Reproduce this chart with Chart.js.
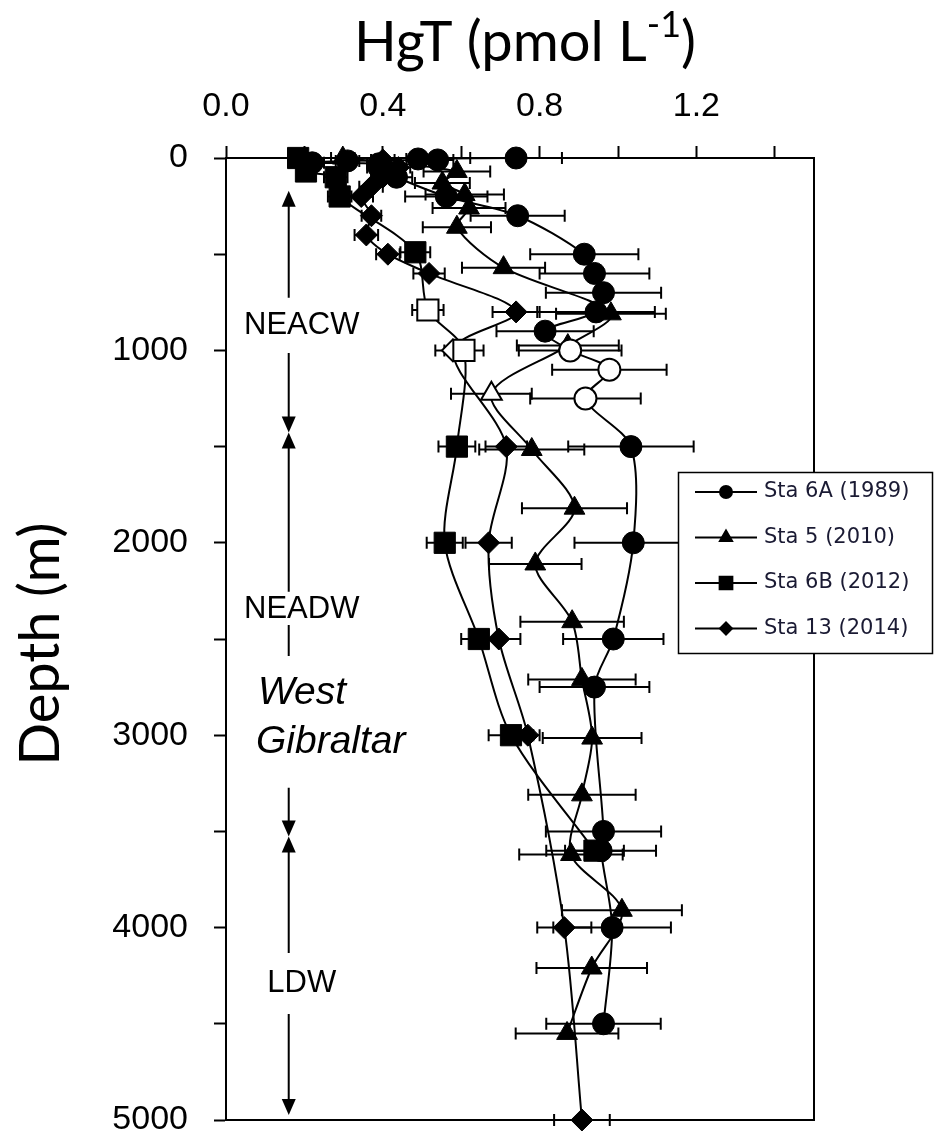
<!DOCTYPE html>
<html>
<head>
<meta charset="utf-8">
<script src="https://cdn.jsdelivr.net/npm/chart.js@4.4.0/dist/chart.umd.min.js"></script>
<style>
html, body { margin: 0; padding: 0; background: #fff; }
</style>
</head>
<body>
<canvas id="chart" width="934" height="1138"></canvas>
<script>
// depth (m), HgT (pmol/L) and +/- error for each station; open = hollow markers
var depth6A = [0, 5, 10, 15, 25, 30, 50, 100, 200, 300, 500, 600, 700, 800, 900, 1000, 1100, 1250, 1500, 2000, 2500, 2750, 3500, 3600, 4000, 4500];
var hgt6A = [0.74, 0.49, 0.54, 0.31, 0.22, 0.39, 0.39, 0.435, 0.562, 0.744, 0.914, 0.94, 0.963, 0.944, 0.814, 0.878, 0.978, 0.917, 1.033, 1.039, 0.988, 0.94, 0.963, 0.957, 0.985, 0.963];
var err6A = [0.117, 0.03, 0.04, 0.03, 0.03, 0.03, 0.03, 0.04, 0.105, 0.12, 0.138, 0.14, 0.147, 0.15, 0.124, 0.131, 0.146, 0.141, 0.16, 0.15, 0.128, 0.14, 0.147, 0.14, 0.15, 0.146];
var open6A = [1000, 1100, 1250];

var depth5 = [0, 70, 130, 190, 260, 360, 570, 810, 975, 1225, 1515, 1820, 2110, 2410, 2710, 3015, 3310, 3620, 3910, 4210, 4550];
var hgt5 = [0.298, 0.589, 0.552, 0.609, 0.62, 0.589, 0.708, 0.982, 0.872, 0.677, 0.78, 0.889, 0.789, 0.883, 0.908, 0.934, 0.908, 0.88, 1.01, 0.933, 0.87];
var err5 = [0.03, 0.085, 0.07, 0.1, 0.093, 0.087, 0.106, 0.14, 0.13, 0.103, 0.134, 0.134, 0.118, 0.132, 0.137, 0.126, 0.137, 0.132, 0.153, 0.141, 0.131];
var open5 = [1225];

var depth6B = [0, 70, 100, 200, 490, 790, 1000, 1500, 2000, 2500, 3000, 3600];
var hgt6B = [0.184, 0.204, 0.28, 0.29, 0.483, 0.515, 0.607, 0.589, 0.558, 0.645, 0.727, 0.94];
var err6B = [0.02, 0.02, 0.03, 0.03, 0.038, 0.04, 0.05, 0.047, 0.046, 0.045, 0.057, 0.075];
var open6B = [790, 1000];

var depth13 = [10, 50, 100, 150, 200, 300, 400, 500, 600, 800, 1000, 1500, 2000, 2500, 3000, 4000, 5000];
var hgt13 = [0.40, 0.44, 0.40, 0.37, 0.345, 0.371, 0.358, 0.413, 0.518, 0.74, 0.579, 0.715, 0.67, 0.696, 0.77, 0.863, 0.908];
var err13 = [0.03, 0.03, 0.03, 0.03, 0.03, 0.025, 0.03, 0.03, 0.04, 0.06, 0.045, 0.053, 0.059, 0.055, 0.03, 0.069, 0.071];
var open13 = [1000];

var seriesNames = ['Sta 6A (1989)', 'Sta 5 (2010)', 'Sta 6B (2012)', 'Sta 13 (2014)'];
var xTickLabels = ['0.0', '0.4', '0.8', '1.2'];
var yTickLabels = ['0', '1000', '2000', '3000', '4000', '5000'];

// water masses: [label, top depth, bottom depth]
var waterMasses = [['NEACW', 170, 1427], ['NEADW', 1427, 3527], ['LDW', 3527, 4974]];

function makeSet(name, depths, vals, errs, open, style, r) {
    return {
        label: name,
        data: depths.map((d, i) => ({ x: vals[i], y: d })),
        errors: errs,
        showLine: true,
        tension: 0.3,
        borderColor: '#000',
        borderWidth: 2,
        pointStyle: style,
        pointRadius: r,
        pointBorderColor: '#000',
        pointBackgroundColor: depths.map(d => open.indexOf(d) >= 0 ? '#fff' : '#000'),
        pointBorderWidth: depths.map(d => open.indexOf(d) >= 0 ? 2 : 1),
        clip: false
    };
}

var errorBars = {
    id: 'errorBars',
    beforeDatasetsDraw(chart) {
        var ctx = chart.ctx, xs = chart.scales.x, ys = chart.scales.y;
        var a = chart.chartArea;
        ctx.save();
        ctx.strokeStyle = '#000';
        ctx.lineWidth = 2;
        // right and bottom sides of the box
        ctx.strokeRect(a.left, a.top, a.right - a.left, a.bottom - a.top);
        chart.data.datasets.forEach(ds => {
            ds.data.forEach((p, i) => {
                var e = ds.errors[i];
                var y = ys.getPixelForValue(p.y);
                var x0 = xs.getPixelForValue(p.x - e), x1 = xs.getPixelForValue(p.x + e);
                ctx.beginPath();
                ctx.moveTo(x0, y); ctx.lineTo(x1, y);
                ctx.moveTo(x0, y - 6); ctx.lineTo(x0, y + 6);
                ctx.moveTo(x1, y - 6); ctx.lineTo(x1, y + 6);
                ctx.stroke();
            });
        });
        ctx.restore();
    }
};

function arrowHead(ctx, x, y, dir) {
    ctx.beginPath();
    ctx.moveTo(x, y);
    ctx.lineTo(x - 7, y - dir * 16);
    ctx.lineTo(x + 7, y - dir * 16);
    ctx.closePath();
    ctx.fill();
}

var extras = {
    id: 'extras',
    afterDraw(chart) {
        var ctx = chart.ctx, xs = chart.scales.x, ys = chart.scales.y;
        ctx.save();
        ctx.fillStyle = '#000';
        ctx.strokeStyle = '#000';
        ctx.lineWidth = 2;

        // water mass arrows
        var ax = xs.getPixelForValue(0.16);
        var gaps = [[727, 1013], [2254, 3273], [4132, 4449]];
        waterMasses.forEach((w, i) => {
            var t = ys.getPixelForValue(w[1]), b = ys.getPixelForValue(w[2]);
            var g0 = ys.getPixelForValue(gaps[i][0]), g1 = ys.getPixelForValue(gaps[i][1]);
            ctx.beginPath();
            ctx.moveTo(ax, t + 10); ctx.lineTo(ax, g0);
            ctx.moveTo(ax, g1); ctx.lineTo(ax, b - 10);
            ctx.stroke();
            arrowHead(ctx, ax, t, -1);
            arrowHead(ctx, ax, b, 1);
            ctx.font = '31px "Liberation Sans"';
            ctx.textAlign = 'center';
            ctx.textBaseline = 'middle';
            ctx.fillText(w[0], ax + 13, (g0 + g1) / 2 + (i == 1 ? -(g1 - g0) / 2 + 18 : 0));
        });
        // short dash between NEADW and West Gibraltar
        ctx.beginPath();
        ctx.moveTo(ax, 625); ctx.lineTo(ax, 656);
        ctx.stroke();
        ctx.font = 'italic 39px "Liberation Sans"';
        ctx.textAlign = 'left';
        ctx.textBaseline = 'middle';
        ctx.fillText('West', 258, 693);
        ctx.fillText('Gibraltar', 256, 742);

        // axis titles
        ctx.textBaseline = 'alphabetic';
        ctx.font = '56px Lato';
        var main = 'HgT (pmol L', tail = ')';
        var w1 = ctx.measureText(main).width, w3 = ctx.measureText(tail).width;
        ctx.font = '36px Lato';
        var w2 = ctx.measureText('-1').width;
        var x0 = 525 - (w1 + w2 + w3) / 2;
        ctx.font = '56px Lato';
        ctx.fillText(main, x0, 61);
        ctx.fillText(tail, x0 + w1 + w2, 61);
        ctx.font = '36px Lato';
        ctx.fillText('-1', x0 + w1, 37);

        ctx.save();
        ctx.translate(41, 644);
        ctx.rotate(-Math.PI / 2);
        ctx.font = '56px Lato';
        ctx.textAlign = 'center';
        ctx.textBaseline = 'middle';
        ctx.fillText('Depth (m)', 0, 0);
        ctx.restore();

        // legend
        ctx.fillStyle = '#fff';
        ctx.fillRect(678, 472, 254, 181);
        ctx.lineWidth = 1.5;
        ctx.strokeRect(678.5, 472.5, 254, 181);
        var legendSize = [6, 7, 9, 6];
        chart.data.datasets.forEach((ds, i) => {
            var y = 492 + i * 45.5;
            ctx.strokeStyle = '#000';
            ctx.lineWidth = 2;
            ctx.beginPath();
            ctx.moveTo(695, y); ctx.lineTo(757, y);
            ctx.stroke();
            ctx.fillStyle = '#000';
            Chart.helpers.drawPoint(ctx, { pointStyle: ds.pointStyle, radius: legendSize[i], borderWidth: 1, rotation: 0 }, 726, y);
            ctx.fill();
            ctx.font = '21px "DejaVu Sans"';
            ctx.fillStyle = '#1a1a33';
            ctx.textAlign = 'left';
            ctx.textBaseline = 'middle';
            ctx.fillText(seriesNames[i], 764, y);
        });
        ctx.restore();
    }
};

var ch = document.getElementById('chart');
var chart = new Chart(ch.getContext('2d'), {
    type: 'scatter',
    data: {
        datasets: [
            makeSet(seriesNames[0], depth6A, hgt6A, err6A, open6A, 'circle', 11),
            makeSet(seriesNames[1], depth5, hgt5, err5, open5, 'triangle', 12),
            makeSet(seriesNames[2], depth6B, hgt6B, err6B, open6B, 'rect', 15),
            makeSet(seriesNames[3], depth13, hgt13, err13, open13, 'rectRot', 11)
        ]
    },
    options: {
        responsive: false,
        animation: false,
        layout: { padding: { left: 0, top: 0, right: 120, bottom: 18 } },
        plugins: { legend: { display: false }, tooltip: { enabled: false } },
        scales: {
            x: {
                type: 'linear', position: 'top', min: 0, max: 1.5,
                border: { display: true, color: '#000', width: 2 },
                grid: { drawOnChartArea: false, drawTicks: true, tickLength: 12, tickWidth: 2, tickColor: '#000' },
                ticks: {
                    stepSize: 0.2, includeBounds: false, autoSkip: false, maxRotation: 0, padding: 19,
                    color: '#000', font: { family: 'Liberation Sans', size: 34 },
                    callback: v => xTickLabels.indexOf(v.toFixed(1)) >= 0 ? v.toFixed(1) : ''
                },
                afterFit: s => { s.height = 158; s.paddingLeft = 0; s.paddingRight = 0; }
            },
            y: {
                type: 'linear', reverse: true, min: 0, max: 5000,
                border: { display: true, color: '#000', width: 2 },
                grid: { drawOnChartArea: false, drawTicks: true, tickLength: 12, tickWidth: 2, tickColor: '#000' },
                ticks: {
                    stepSize: 500, autoSkip: false, padding: 26,
                    color: '#000', font: { family: 'Liberation Sans', size: 34 },
                    callback: v => yTickLabels.indexOf(String(v)) >= 0 ? String(v) : ''
                },
                afterFit: s => { s.width = 226; s.paddingTop = 0; s.paddingBottom = 0; }
            }
        }
    },
    plugins: [errorBars, extras]
});
</script>
</body>
</html>
